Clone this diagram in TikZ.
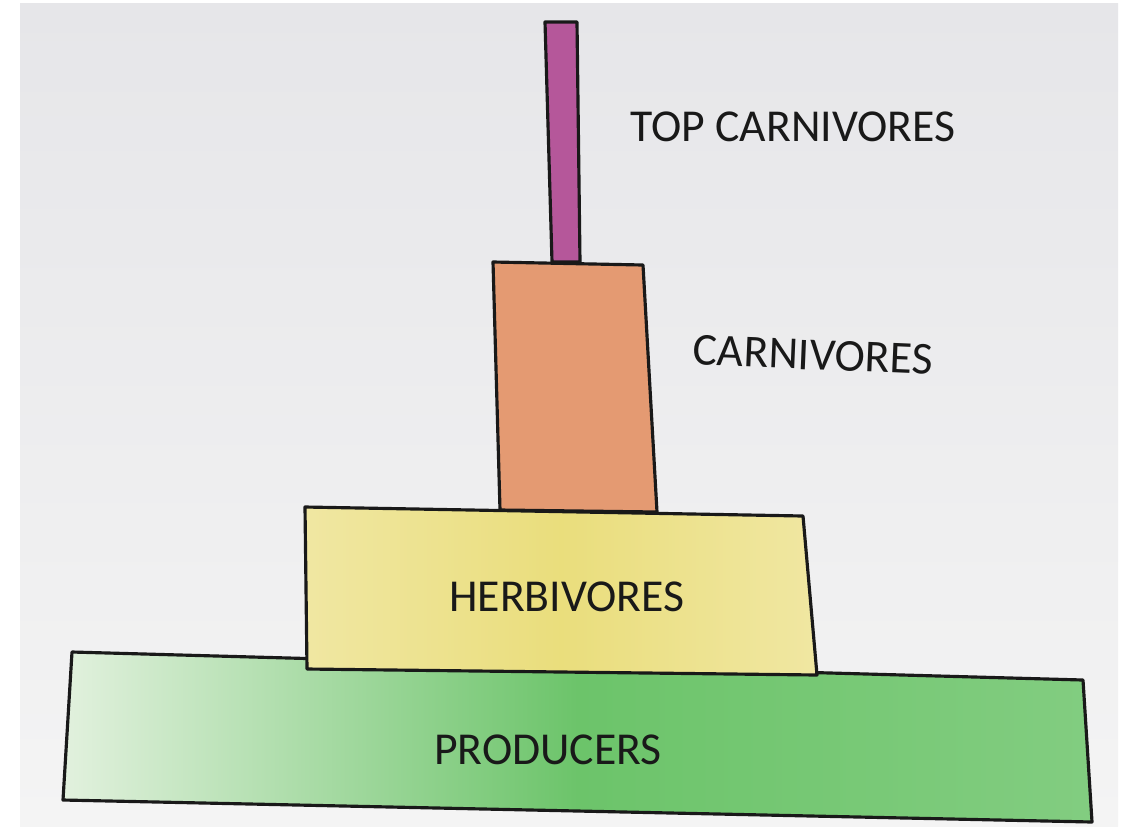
\documentclass[tikz,border=0pt]{standalone}
\usepackage{fontspec}
\setmainfont{Carlito}
\usetikzlibrary{positioning}
\definecolor{paperhi}{HTML}{E6E6E9}
\definecolor{paperlo}{HTML}{F4F4F4}
\definecolor{topcol}{HTML}{B5579A}
\definecolor{carncol}{HTML}{E49A72}
\definecolor{herbcol}{HTML}{F0E7A2}
\definecolor{herbdark}{HTML}{E2D24E}
\definecolor{prodlight}{HTML}{E2F1DE}
\definecolor{prodcol}{HTML}{6CC46A}

\begin{document}
\begin{tikzpicture}[
    x=0.02cm, y=-0.02cm,
    bar/.style={draw=black!90, line width=1.8pt, line join=round},
    lbl/.style={font=\fontsize{26}{30}\selectfont, text=black!90, inner sep=0pt}
]
    \useasboundingbox (0,0) rectangle (1125,826);
    \fill[white] (0,0) rectangle (1125,826);
    \shade[top color=paperhi, bottom color=paperlo] (20,3) rectangle (1118,826);

    % producers
    \shade[bar, left color=prodlight, right color=prodcol!85, middle color=prodcol]
        (72,652) -- (1083,680) -- (1092,822) -- (63,800) -- cycle;
    % herbivores
    \shade[bar, left color=herbcol, right color=herbcol, middle color=herbdark!45!herbcol]
        (305,507) -- (803,516) -- (817,675) -- (307,669) -- cycle;
    % carnivores
    \fill[bar, fill=carncol] (493,262) -- (643,265) -- (657,512) -- (500,510) -- cycle;
    % top carnivores
    \fill[bar, fill=topcol] (545,22) -- (577,22) -- (580,262) -- (552,262) -- cycle;

    \node[lbl] (topcarn) at (793,127) {TOP CARNIVORES};
    \node[lbl, rotate=-2.4] (carn) at (813,355) {CARNIVORES};
    \node[lbl] (herb) at (567,597) {HERBIVORES};
    \node[lbl] (prod) at (548,750) {PRODUCERS};
\end{tikzpicture}
\end{document}
